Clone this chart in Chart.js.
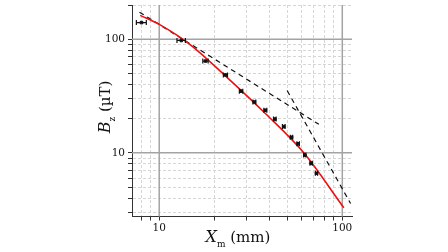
<!DOCTYPE html>
<html>
<head>
<meta charset="utf-8">
<script src="https://cdn.jsdelivr.net/npm/chart.js@4.4.0/dist/chart.umd.min.js"></script>
<style>
html, body { margin: 0; padding: 0; background: #fff; }
#wrap { width: 448px; height: 252px; }
</style>
</head>
<body>
<div id="wrap"><canvas id="fieldChart" width="448" height="252"></canvas></div>
<script>
// measured points: distance (mm), field (uT), x error (mm)
const measX = [8.0, 13.2, 17.9, 23.0, 28.0, 33.1, 38.0, 42.8, 47.9, 52.8, 57.4, 62.4, 67.6, 72.3];
const measY = [140, 97.4, 64.2, 48.5, 34.9, 28.0, 23.7, 19.8, 17.0, 13.7, 12.0, 9.55, 8.1, 6.6];
const measXErr = [0.5, 0.7, 0.6, 0.6, 0.6, 0.6, 0.7, 0.7, 0.8, 0.8, 0.9, 0.9, 1.0, 1.0];

// model curve (red)
const modelX = [7.87, 10, 14.8, 22.5, 38, 61.6, 102];
const modelY = [162, 135, 89.3, 49.1, 22.2, 10, 3.28];

// asymptotes (dashed)
const nearX = [7.8, 74.5];
const nearY = [173, 17.8];
const farX = [50, 111];
const farY = [35.3, 3.58];

const xTicks = [8, 9, 10, 20, 30, 40, 50, 60, 70, 80, 90, 100];
const yTicks = [3, 4, 5, 6, 7, 8, 9, 10, 20, 30, 40, 50, 60, 70, 80, 90, 100, 200];
const majorTicks = [10, 100];

const pts = (xs, ys) => xs.map((x, i) => ({ x: x, y: ys[i] }));
const serif = 'DejaVu Serif';

// solid grid lines at the decades
const majorGrid = {
    id: 'majorGrid',
    beforeDatasetsDraw(chart) {
        const { ctx, chartArea: a, scales: { x, y } } = chart;
        ctx.save();
        ctx.strokeStyle = '#a3a3a3';
        ctx.lineWidth = 1.5;
        majorTicks.forEach(v => {
            const px = x.getPixelForValue(v);
            ctx.beginPath(); ctx.moveTo(px, a.top); ctx.lineTo(px, a.bottom); ctx.stroke();
            const py = y.getPixelForValue(v);
            ctx.beginPath(); ctx.moveTo(a.left, py); ctx.lineTo(a.right, py); ctx.stroke();
        });
        ctx.restore();
    }
};

// horizontal error bars on the measured points
const errorBars = {
    id: 'errorBars',
    afterDatasetsDraw(chart) {
        const { ctx, scales: { x, y } } = chart;
        ctx.save();
        ctx.strokeStyle = '#111';
        ctx.lineWidth = 1.2;
        measX.forEach((v, i) => {
            const x0 = x.getPixelForValue(v - measXErr[i]);
            const x1 = x.getPixelForValue(v + measXErr[i]);
            const py = y.getPixelForValue(measY[i]);
            ctx.beginPath();
            ctx.moveTo(x0, py); ctx.lineTo(x1, py);
            ctx.moveTo(x0, py - 2.5); ctx.lineTo(x0, py + 2.5);
            ctx.moveTo(x1, py - 2.5); ctx.lineTo(x1, py + 2.5);
            ctx.stroke();
        });
        ctx.restore();
    }
};

// axis titles with italic symbols and subscripts
function drawParts(ctx, parts) {
    let w = 0;
    parts.forEach(p => { ctx.font = p.font; w += ctx.measureText(p.text).width; });
    let cx = -w / 2;
    parts.forEach(p => {
        ctx.font = p.font;
        ctx.fillText(p.text, cx, p.dy);
        cx += ctx.measureText(p.text).width;
    });
}
const axisTitles = {
    id: 'axisTitles',
    afterDraw(chart) {
        const ctx = chart.ctx;
        ctx.save();
        ctx.fillStyle = '#111';
        ctx.textBaseline = 'alphabetic';
        ctx.textAlign = 'left';
        ctx.translate(238, 242);
        drawParts(ctx, [
            { text: 'X', font: 'italic 16px "' + serif + '"', dy: 0 },
            { text: 'm', font: '9px "' + serif + '"', dy: 5 },
            { text: ' (mm)', font: '15px "' + serif + '"', dy: 0 }
        ]);
        ctx.restore();

        ctx.save();
        ctx.fillStyle = '#111';
        ctx.textBaseline = 'alphabetic';
        ctx.textAlign = 'left';
        ctx.translate(110, 107);
        ctx.rotate(-Math.PI / 2);
        drawParts(ctx, [
            { text: 'B', font: 'italic 16px "' + serif + '"', dy: 0 },
            { text: 'z', font: '9px "' + serif + '"', dy: 5 },
            { text: ' (\u00b5T)', font: '15px "' + serif + '"', dy: 0 }
        ]);
        ctx.restore();
    }
};

const gridOpts = {
    color: c => (c.tick && majorTicks.includes(c.tick.value)) ? 'rgba(0,0,0,0)' : '#d6d6d6',
    lineWidth: 1,
    tickColor: '#333',
    tickLength: 4
};

const noPad = s => { s.paddingTop = 0; s.paddingBottom = 0; s.paddingLeft = 0; s.paddingRight = 0; };

new Chart(document.getElementById('fieldChart').getContext('2d'), {
    type: 'scatter',
    data: {
        datasets: [{
            label: 'Measured',
            data: pts(measX, measY),
            backgroundColor: '#111',
            borderColor: '#111',
            pointStyle: 'rect',
            pointRadius: 1.8
        }, {
            label: 'Model',
            data: pts(modelX, modelY),
            showLine: true,
            borderColor: '#ee1010',
            borderWidth: 1.6,
            pointRadius: 0,
            cubicInterpolationMode: 'monotone'
        }, {
            label: 'Near field',
            data: pts(nearX, nearY),
            showLine: true,
            borderColor: '#111',
            borderWidth: 1.2,
            borderDash: [5, 4],
            pointRadius: 0
        }, {
            label: 'Far field',
            data: pts(farX, farY),
            showLine: true,
            borderColor: '#111',
            borderWidth: 1.2,
            borderDash: [5, 4],
            pointRadius: 0
        }]
    },
    options: {
        responsive: false,
        animation: false,
        layout: { padding: { left: 0, right: 96, top: 1, bottom: 0 } },
        plugins: { legend: { display: false }, tooltip: { enabled: false } },
        scales: {
            x: {
                type: 'logarithmic',
                min: 7.1,
                max: 113,
                afterBuildTicks: s => { s.ticks = xTicks.map(v => ({ value: v })); },
                afterFit: s => { s.height = 35.5; noPad(s); },
                ticks: {
                    autoSkip: false,
                    maxRotation: 0,
                    padding: 1,
                    color: '#111',
                    font: { family: serif, size: 10.5 },
                    callback: v => majorTicks.includes(v) ? String(v) : ''
                },
                grid: gridOpts,
                border: { display: true, color: '#333', width: 1, dash: [3, 2] }
            },
            y: {
                type: 'logarithmic',
                min: 2.75,
                max: 200,
                afterBuildTicks: s => { s.ticks = yTicks.map(v => ({ value: v })); },
                afterFit: s => { s.width = 132; noPad(s); },
                ticks: {
                    autoSkip: false,
                    padding: 3,
                    color: '#111',
                    font: { family: serif, size: 10.5 },
                    callback: v => majorTicks.includes(v) ? String(v) : ''
                },
                grid: gridOpts,
                border: { display: true, color: '#333', width: 1, dash: [3, 2] }
            }
        }
    },
    plugins: [majorGrid, errorBars, axisTitles]
});
</script>
</body>
</html>
